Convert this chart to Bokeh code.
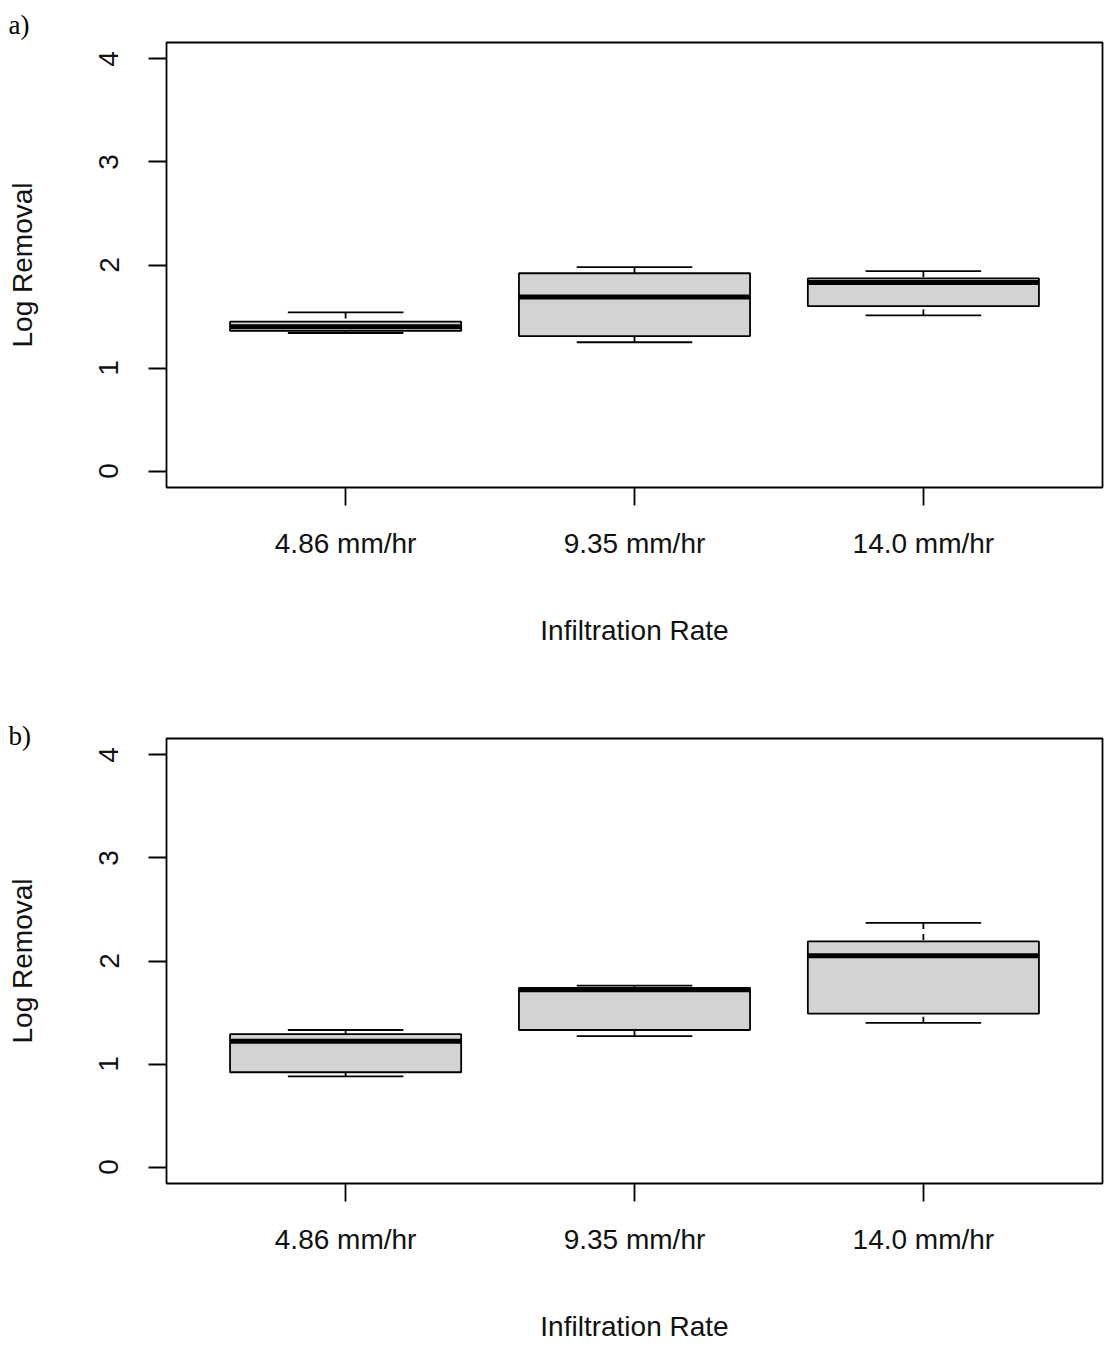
from bokeh.plotting import figure
from bokeh.models import Range1d, FixedTicker, Title, ColumnDataSource
from bokeh.layouts import column
from bokeh.embed import file_html
from bokeh.resources import INLINE

# ---- data ----
rates = ["4.86 mm/hr", "9.35 mm/hr", "14.0 mm/hr"]
positions = [1, 2, 3]

a_low = [1.34, 1.25, 1.51]
a_q1 = [1.36, 1.31, 1.60]
a_med = [1.40, 1.69, 1.83]
a_q3 = [1.45, 1.92, 1.87]
a_high = [1.54, 1.98, 1.94]

b_low = [0.88, 1.27, 1.40]
b_q1 = [0.92, 1.33, 1.49]
b_med = [1.22, 1.72, 2.05]
b_q3 = [1.29, 1.74, 2.19]
b_high = [1.33, 1.76, 2.37]

y_ticks = [0, 1, 2, 3, 4]

FONT = "Liberation Sans"
BOXW = 0.8
STAPLEW = 0.4
LW = 1.8


def make_panel(tag, low, q1, med, q3, high, height, bottom, tag_standoff):
    p = figure(width=1110, height=height, output_backend="svg", toolbar_location=None,
               x_range=Range1d(0.38, 3.62), y_range=Range1d(-0.16, 4.16),
               min_border_left=166, min_border_right=8, min_border_top=42,
               min_border_bottom=bottom)
    p.grid.visible = False
    p.outline_line_color = "black"
    p.outline_line_width = LW
    p.background_fill_color = "white"
    p.border_fill_color = "white"

    src = ColumnDataSource(dict(
        x=positions,
        xl=[v - BOXW / 2 for v in positions],
        xr=[v + BOXW / 2 for v in positions],
        sl=[v - STAPLEW / 2 for v in positions],
        sr=[v + STAPLEW / 2 for v in positions],
        low=low, q1=q1, med=med, q3=q3, high=high))

    # whiskers (dashed)
    p.segment(x0="x", y0="high", x1="x", y1="q3", source=src, line_color="black",
              line_width=LW, line_dash="6 5")
    p.segment(x0="x", y0="low", x1="x", y1="q1", source=src, line_color="black",
              line_width=LW, line_dash="6 5")
    # staples
    p.segment(x0="sl", y0="high", x1="sr", y1="high", source=src, line_color="black",
              line_width=LW)
    p.segment(x0="sl", y0="low", x1="sr", y1="low", source=src, line_color="black",
              line_width=LW)
    # boxes
    p.vbar(x="x", width=BOXW, bottom="q1", top="q3", source=src,
           fill_color="#D3D3D3", line_color="black", line_width=LW)
    # medians
    p.segment(x0="xl", y0="med", x1="xr", y1="med", source=src, line_color="black",
              line_width=5, line_cap="butt")

    # axes
    for ax in (p.xaxis[0], p.yaxis[0]):
        ax.axis_line_color = None
        ax.major_tick_line_color = "black"
        ax.major_tick_line_width = LW
        ax.major_tick_out = 18
        ax.major_tick_in = 0
        ax.minor_tick_line_color = None
        ax.major_label_text_font = FONT
        ax.major_label_text_font_size = "28px"
        ax.major_label_text_color = "#111111"
        ax.axis_label_text_font = FONT
        ax.axis_label_text_font_size = "28px"
        ax.axis_label_text_font_style = "normal"
        ax.axis_label_text_color = "#111111"

    p.xaxis.ticker = FixedTicker(ticks=positions)
    p.xaxis.major_label_overrides = {pos: lab for pos, lab in zip(positions, rates)}
    p.xaxis.axis_label = "Infiltration Rate"
    p.xaxis.major_label_standoff = 22
    p.xaxis.axis_label_standoff = 53

    p.yaxis.ticker = FixedTicker(ticks=y_ticks)
    p.yaxis.major_label_orientation = "parallel"
    p.yaxis.axis_label = "Log Removal"
    p.yaxis.major_label_standoff = 30
    p.yaxis.axis_label_standoff = 59

    t = Title(text=tag, align="left", offset=-158, standoff=tag_standoff,
              text_font="Liberation Serif", text_font_size="27px",
              text_font_style="normal", text_color="black")
    p.add_layout(t, "above")
    return p


p1 = make_panel("a)", a_low, a_q1, a_med, a_q3, a_high, 696, 209, 6)
p2 = make_panel("b)", b_low, b_q1, b_med, b_q3, b_high, 656, 169, -25)

layout = column(p1, p2, spacing=0)
open("out.html", "w").write(file_html(layout, INLINE))
